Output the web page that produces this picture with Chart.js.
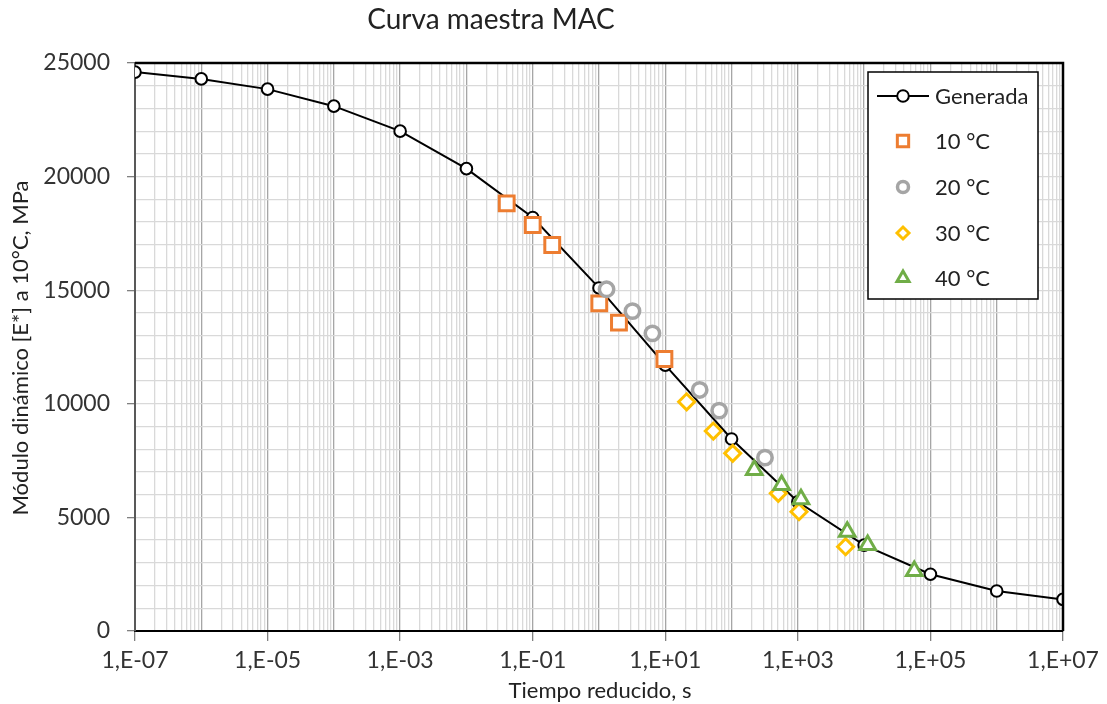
<!DOCTYPE html>
<html>
<head>
<meta charset="utf-8">
<script src="https://cdn.jsdelivr.net/npm/chart.js@4/dist/chart.umd.min.js"></script>
<style>
  body { margin: 0; background: #fff; }
  #wrap { width: 1107px; height: 704px; }
</style>
</head>
<body>
<div id="wrap"><canvas id="curva"></canvas></div>
<script>
// curva generada (una por década)
const genT = [1e-7, 1e-6, 1e-5, 1e-4, 1e-3, 1e-2, 1e-1, 1e0, 1e1, 1e2, 1e3, 1e4, 1e5, 1e6, 1e7];
const genE = [24600, 24300, 23850, 23100, 22000, 20350, 18200, 15100, 11700, 8450, 5690, 3780, 2500, 1760, 1390];

// ensayos por temperatura
const t10 = [0.0405, 0.1, 0.197, 1.01, 2.0, 9.7];
const e10 = [18820, 17870, 16990, 14420, 13570, 11970];
const t20 = [1.3, 3.2, 6.4, 33, 65, 319];
const e20 = [15040, 14080, 13100, 10610, 9700, 7630];
const t30 = [21, 53, 104, 507, 1040, 5250];
const e30 = [10090, 8800, 7820, 6060, 5250, 3710];
const t40 = [220, 569, 1115, 5560, 11300, 57000];
const e40 = [7090, 6430, 5800, 4370, 3785, 2640];

const xLabelExp = [-7, -5, -3, -1, 1, 3, 5, 7];
const yLabelStep = 5000;

const FONT = "Lato, 'Open Sans', sans-serif";

function pts(t, e) {
  return t.map((v, i) => ({ x: v, y: e[i] }));
}

function decadeInfo(v) {
  const ex = Math.floor(Math.log10(v) + 1e-9);
  const m = Math.round(v / Math.pow(10, ex));
  return { ex, m };
}

function fmtExp(ex) {
  const s = ex < 0 ? "-" : "+";
  const a = Math.abs(ex);
  return "1,E" + s + (a < 10 ? "0" + a : a);
}

const series = [
  { label: "Generada", data: pts(genT, genE), showLine: true, borderColor: "#000", backgroundColor: "#fff",
    borderWidth: 2, pointStyle: "circle", pointRadius: 5.8, pointBorderWidth: 2, order: 5, legendR: 5.8 },
  { label: "10 °C", data: pts(t10, e10), borderColor: "#ED7D31", backgroundColor: "#fff",
    pointStyle: "rect", pointRadius: 10.5, pointBorderWidth: 3, order: 4, legendR: 8 },
  { label: "20 °C", data: pts(t20, e20), borderColor: "#A5A5A5", backgroundColor: "#fff",
    pointStyle: "circle", pointRadius: 7.2, pointBorderWidth: 3.5, order: 3, legendR: 5.5 },
  { label: "30 °C", data: pts(t30, e30), borderColor: "#FFC000", backgroundColor: "#fff",
    pointStyle: "rectRot", pointRadius: 8, pointBorderWidth: 3, order: 2, legendR: 6 },
  { label: "40 °C", data: pts(t40, e40), borderColor: "#70AD47", backgroundColor: "#fff",
    pointStyle: "triangle", pointRadius: 9, pointBorderWidth: 3, order: 1, legendR: 7 }
];

const extras = {
  id: "extras",
  afterDraw(chart) {
    const ctx = chart.ctx;
    const a = chart.chartArea;
    ctx.save();
    // borde del área de trazado
    ctx.strokeStyle = "#000";
    ctx.lineWidth = 2.5;
    ctx.beginPath();
    ctx.moveTo(a.left, a.top);
    ctx.lineTo(a.right, a.top);
    ctx.lineTo(a.right, a.bottom);
    ctx.stroke();

    // títulos
    ctx.fillStyle = "#222";
    ctx.textAlign = "center";
    ctx.textBaseline = "alphabetic";
    ctx.font = "28px " + FONT;
    ctx.fillText("Curva maestra MAC", 491, 29);
    ctx.font = "22px " + FONT;
    ctx.fillText("Tiempo reducido, s", 600, 698);
    ctx.save();
    ctx.translate(28, 348);
    ctx.rotate(-Math.PI / 2);
    ctx.fillText("Módulo dinámico [E*] a 10°C, MPa", 0, 0);
    ctx.restore();

    // leyenda
    const lx = 868, ly = 72, lw = 170, lh = 227;
    ctx.fillStyle = "#fff";
    ctx.fillRect(lx, ly, lw, lh);
    ctx.strokeStyle = "#000";
    ctx.lineWidth = 1.5;
    ctx.strokeRect(lx, ly, lw, lh);
    const rows = [96, 141, 187, 233, 278];
    ctx.font = "22px " + FONT;
    ctx.textAlign = "left";
    ctx.textBaseline = "middle";
    series.forEach((s, i) => {
      const y = rows[i];
      if (s.showLine) {
        ctx.strokeStyle = s.borderColor;
        ctx.lineWidth = 2;
        ctx.beginPath();
        ctx.moveTo(877, y);
        ctx.lineTo(929, y);
        ctx.stroke();
      }
      ctx.strokeStyle = s.borderColor;
      ctx.fillStyle = "#fff";
      ctx.lineWidth = s.pointBorderWidth;
      Chart.helpers.drawPoint(ctx, { pointStyle: s.pointStyle, radius: s.legendR, rotation: 0, borderWidth: s.pointBorderWidth }, 903, y);
      ctx.fillStyle = "#222";
      ctx.fillText(s.label, 935, y + 1);
    });
    ctx.restore();
  }
};

new Chart(document.getElementById("curva"), {
  type: "scatter",
  data: { datasets: series },
  options: {
    responsive: true,
    maintainAspectRatio: false,
    animation: false,
    layout: { padding: { left: 0, top: 63, right: 44, bottom: 0 } },
    plugins: { legend: { display: false }, tooltip: { enabled: false } },
    elements: { line: { tension: 0 } },
    scales: {
      x: {
        type: "logarithmic",
        min: 1e-7,
        max: 1e7,
        afterBuildTicks(scale) {
          const ticks = [];
          for (let e = -7; e < 7; e++) {
            for (let m = 1; m <= 9; m++) ticks.push({ value: Number(m + "e" + e) });
          }
          ticks.push({ value: 1e7 });
          scale.ticks = ticks;
        },
        afterFit(scale) { scale.height = 704 - 631; },
        border: { color: "#000", width: 2 },
        grid: {
          color(c) {
            if (!c.tick) return "#d9d9d9";
            return decadeInfo(c.tick.value).m === 1 ? "#a6a6a6" : "#d9d9d9";
          },
          tickColor(c) {
            if (!c.tick) return "transparent";
            const d = decadeInfo(c.tick.value);
            return d.m === 1 && xLabelExp.includes(d.ex) ? "#808080" : "transparent";
          },
          lineWidth: 1.3,
          tickLength: 10
        },
        ticks: {
          autoSkip: false,
          maxRotation: 0,
          padding: 6,
          color: "#333",
          font: { family: FONT, size: 23 },
          callback(v) {
            const d = decadeInfo(v);
            return d.m === 1 && xLabelExp.includes(d.ex) ? fmtExp(d.ex) : "";
          }
        }
      },
      y: {
        min: 0,
        max: 25000,
        afterFit(scale) { scale.width = 135; },
        border: { color: "#595959", width: 2 },
        grid: {
          color: "#d9d9d9",
          lineWidth: 1.3,
          tickLength: 8,
          tickColor(c) {
            return c.tick && c.tick.value % yLabelStep === 0 ? "#808080" : "transparent";
          }
        },
        ticks: {
          stepSize: 1000,
          autoSkip: false,
          padding: 17,
          color: "#333",
          font: { family: FONT, size: 23 },
          callback(v) { return v % yLabelStep === 0 ? String(v) : ""; }
        }
      }
    }
  },
  plugins: [extras]
});
</script>
</body>
</html>
